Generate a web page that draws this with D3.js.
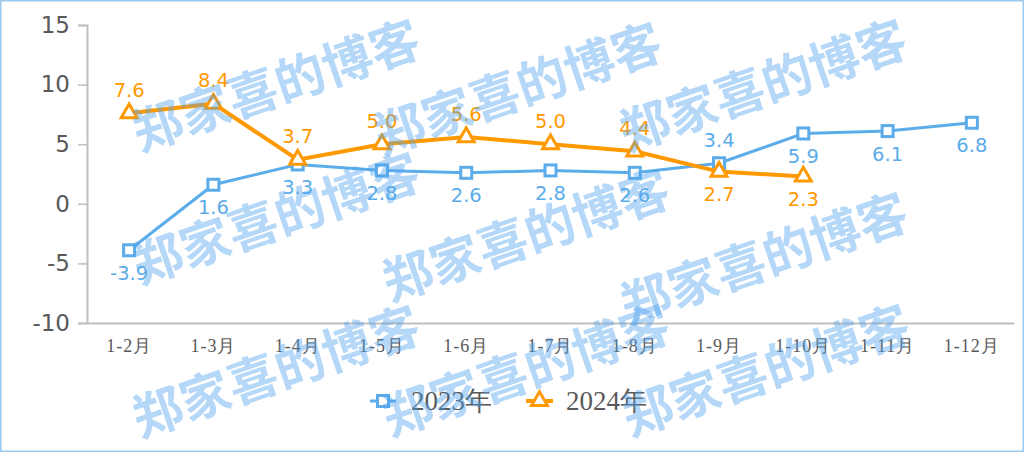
<!DOCTYPE html>
<html><head><meta charset="utf-8">
<script src="https://cdn.jsdelivr.net/npm/d3@7"></script>
<style>html,body{margin:0;padding:0;background:#fff;}</style>
</head><body>
<svg id="c" width="1024" height="452"></svg>
<script>
const categories = ["1-2月","1-3月","1-4月","1-5月","1-6月","1-7月","1-8月","1-9月","1-10月","1-11月","1-12月"];
const values2023 = [-3.9,1.6,3.3,2.8,2.6,2.8,2.6,3.4,5.9,6.1,6.8];
const values2024 = [7.6,8.4,3.7,5.0,5.6,5.0,4.4,2.7,2.3];
const labelPos2023 = ["below","below","below","below","below","below","below","above","below","below","below"];
const labelPos2024 = ["above","above","above","above","above","above","above","below","below"];
const yTicks = [-10,-5,0,5,10,15];
const seriesNames = ["2023年","2024年"];
const watermarkText = "郑家喜的博客";

const svg = d3.select("#c");
const W = 1024, H = 452;
const blue = "#5BACE9", orange = "#FF9900";

svg.append("rect").attr("x",0.5).attr("y",0.5).attr("width",W-1).attr("height",H-1)
  .attr("fill","#fff").attr("stroke","#9DC8EE").attr("stroke-width",2);

const x = d3.scaleBand().domain(categories).range([87,1014]);
const y = d3.scaleLinear().domain([-10,15]).range([323,25]);
const cx = d => x(d) + x.bandwidth()/2;

// y axis
const yAxis = svg.append("g").attr("transform","translate(87,0)")
  .call(d3.axisLeft(y).tickValues(yTicks).tickSize(9).tickPadding(8).tickFormat(d => String(d)));
yAxis.select(".domain").attr("stroke","#BFBFBF").attr("stroke-width",2);
yAxis.selectAll(".tick line").attr("stroke","#BFBFBF").attr("stroke-width",1.5);
yAxis.selectAll("text").attr("font-family","DejaVu Sans, Verdana, sans-serif").attr("font-size",23).attr("fill","#595959");

// x axis
const xAxis = svg.append("g").attr("transform","translate(0,323)")
  .call(d3.axisBottom(x).tickSize(0).tickPadding(16));
xAxis.select(".domain").attr("stroke","#BFBFBF").attr("stroke-width",2);
xAxis.selectAll("text").attr("font-family","'Liberation Serif','DejaVu Serif',serif").attr("font-size",18)
  .attr("letter-spacing",1).attr("fill","#595959");

const line = d3.line().x((d,i)=>cx(categories[i])).y(d=>y(d));

// 2023
svg.append("path").datum(values2023).attr("d",line).attr("fill","none").attr("stroke",blue).attr("stroke-width",3);
svg.selectAll(".m23").data(values2023).enter().append("rect")
  .attr("x",(d,i)=>cx(categories[i])-5.5).attr("y",d=>y(d)-5.5).attr("width",11).attr("height",11)
  .attr("fill","#fff").attr("stroke",blue).attr("stroke-width",3);

// 2024
svg.append("path").datum(values2024).attr("d",line).attr("fill","none").attr("stroke",orange).attr("stroke-width",4);
const tri = d3.symbol().type(d3.symbolTriangle).size(110);
svg.selectAll(".m24").data(values2024).enter().append("path")
  .attr("d",tri).attr("transform",(d,i)=>`translate(${cx(categories[i])},${y(d)})`)
  .attr("fill","#fff").attr("stroke",orange).attr("stroke-width",3);

// labels
function labels(vals,pos,color){
  svg.selectAll(null).data(vals).enter().append("text")
    .attr("x",(d,i)=>cx(categories[i]))
    .attr("y",(d,i)=>y(d)+(pos[i]==="above"?-23:23))
    .attr("text-anchor","middle").attr("dominant-baseline","central")
    .attr("font-family","DejaVu Sans, Verdana, sans-serif").attr("font-size",19.5).attr("fill",color)
    .text(d=>d.toFixed(1));
}
labels(values2023,labelPos2023,blue);
labels(values2024,labelPos2024,orange);

// legend
const lg = svg.append("g");
lg.append("line").attr("x1",370).attr("x2",396).attr("y1",401).attr("y2",401).attr("stroke",blue).attr("stroke-width",3);
lg.append("rect").attr("x",377.5).attr("y",395.5).attr("width",11).attr("height",11).attr("fill","#fff").attr("stroke",blue).attr("stroke-width",3);
lg.append("text").attr("x",411).attr("y",401).attr("dominant-baseline","central")
  .attr("font-family","'Liberation Serif',serif").attr("font-size",27).attr("fill","#595959").text(seriesNames[0]);
lg.append("line").attr("x1",526).attr("x2",553).attr("y1",401).attr("y2",401).attr("stroke",orange).attr("stroke-width",4);
lg.append("path").attr("d",tri).attr("transform","translate(539.5,401)").attr("fill","#fff").attr("stroke",orange).attr("stroke-width",3);
lg.append("text").attr("x",566).attr("y",401).attr("dominant-baseline","central")
  .attr("font-family","'Liberation Serif',serif").attr("font-size",27).attr("fill","#595959").text(seriesNames[1]);

// watermarks
const wmPos = [[275,368],[525,367],[765,367],[275,82],[517,85],[762,82],[275,215],[525,232],[763,255]];
svg.selectAll(".wm").data(wmPos).enter().append("text")
  .attr("transform",d=>`translate(${d[0]},${d[1]}) rotate(-19)`)
  .attr("text-anchor","middle").attr("dominant-baseline","central")
  .attr("font-family","'Noto Sans CJK SC',sans-serif").attr("font-weight","bold").attr("font-size",50)
  .attr("fill","#4EA3EE").attr("fill-opacity",0.42).text(watermarkText);
</script>
</body></html>
